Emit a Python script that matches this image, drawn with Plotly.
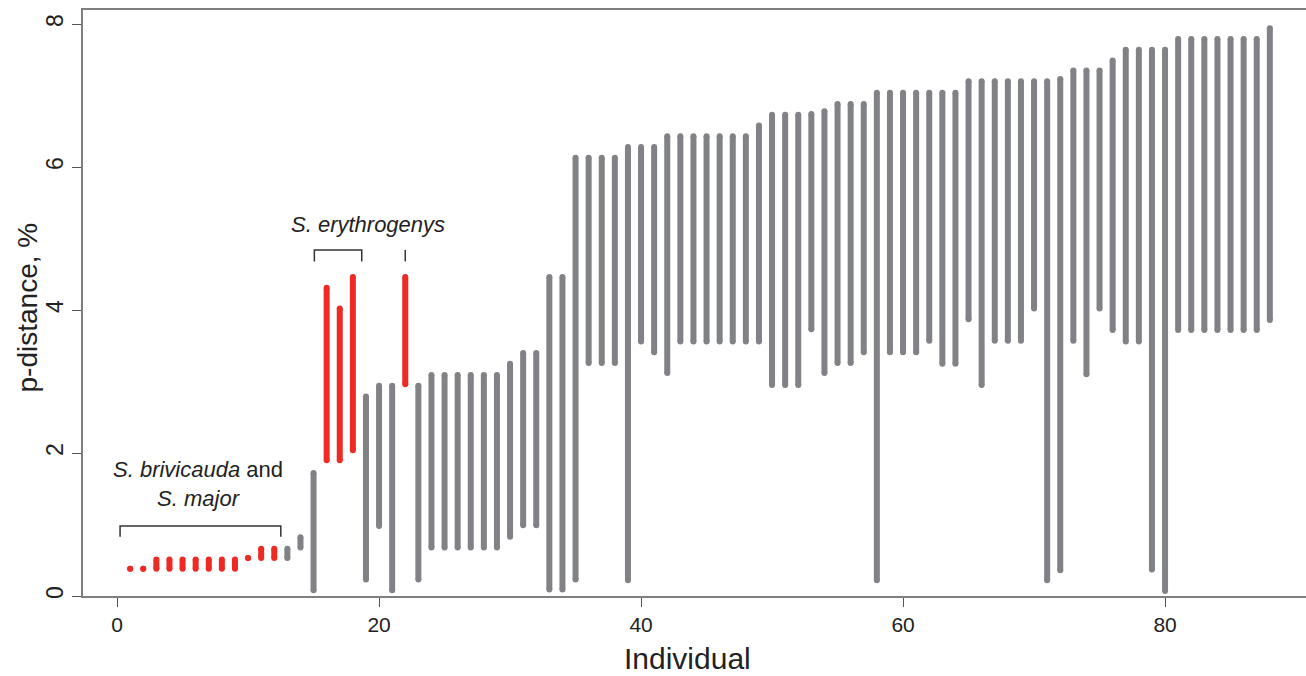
import plotly.graph_objects as go

# ---------------- data ----------------
individual = list(range(1, 89))
p_low = [0.38, 0.38, 0.38, 0.38, 0.38, 0.38, 0.38, 0.38, 0.38, 0.53,
         0.53, 0.53, 0.53, 0.68, 0.08, 1.90, 1.90, 2.04, 0.23, 0.98,
         0.08, 2.96, 0.23, 0.68, 0.68, 0.68, 0.68, 0.68, 0.68, 0.83,
         0.99, 0.99, 0.09, 0.09, 0.23, 3.26, 3.26, 3.26, 0.22, 3.56,
         3.41, 3.12, 3.56, 3.56, 3.56, 3.56, 3.56, 3.56, 3.56, 2.95,
         2.95, 2.95, 3.73, 3.12, 3.26, 3.26, 3.41, 0.22, 3.41, 3.41,
         3.41, 3.57, 3.25, 3.25, 3.87, 2.95, 3.57, 3.57, 3.57, 4.02,
         0.22, 0.36, 3.57, 3.10, 4.02, 3.72, 3.56, 3.56, 0.37, 0.07,
         3.72, 3.72, 3.72, 3.72, 3.72, 3.72, 3.72, 3.86]
p_high = [0.38, 0.38, 0.51, 0.51, 0.51, 0.51, 0.51, 0.51, 0.51, 0.53,
          0.66, 0.66, 0.66, 0.82, 1.72, 4.31, 4.02, 4.46, 2.79, 2.94,
          2.94, 4.46, 2.94, 3.09, 3.09, 3.09, 3.09, 3.09, 3.09, 3.25,
          3.40, 3.40, 4.46, 4.46, 6.13, 6.13, 6.13, 6.13, 6.28, 6.28,
          6.28, 6.43, 6.43, 6.43, 6.43, 6.43, 6.43, 6.43, 6.58, 6.73,
          6.73, 6.73, 6.74, 6.78, 6.88, 6.88, 6.88, 7.04, 7.04, 7.04,
          7.04, 7.04, 7.04, 7.04, 7.20, 7.20, 7.20, 7.20, 7.20, 7.20,
          7.20, 7.23, 7.35, 7.35, 7.35, 7.49, 7.64, 7.64, 7.64, 7.64,
          7.79, 7.79, 7.79, 7.79, 7.79, 7.79, 7.79, 7.94]
highlighted = [1, 2, 3, 4, 5, 6, 7, 8, 9, 10, 11, 12, 16, 17, 18, 22]

x_ticks = [0, 20, 40, 60, 80]
y_ticks = [0, 2, 4, 6, 8]
x_title = "Individual"
y_title = "p-distance, %"

# annotation geometry (data units)
bracket_brivicauda = [0.23, 12.5]
bracket_erythro = [15.06, 18.68]
single_tick_x = 22.0

RED = "#ED2A24"
GRAY = "#818286"
BAR_W = 6

fig = go.Figure()


def add_group(color, members):
    xs, ys = [], []
    for i, lo, hi in zip(individual, p_low, p_high):
        if (i in highlighted) == members:
            xs += [i, i, None]
            ys += [lo, hi, None]
    fig.add_trace(go.Scatter(
        x=xs, y=ys, mode="lines+markers",
        line=dict(color=color, width=BAR_W),
        marker=dict(color=color, size=BAR_W, line=dict(width=0)),
        connectgaps=False, hoverinfo="skip", showlegend=False))


add_group(GRAY, False)
add_group(RED, True)

# brackets
BR = "#333333"
def bracket(x0, x1, ytop, ybot):
    fig.add_trace(go.Scatter(
        x=[x0, x0, x1, x1], y=[ybot, ytop, ytop, ybot], mode="lines",
        line=dict(color=BR, width=1.5), hoverinfo="skip", showlegend=False))

bracket(bracket_brivicauda[0], bracket_brivicauda[1], 0.98, 0.83)
bracket(bracket_erythro[0], bracket_erythro[1], 4.84, 4.68)
fig.add_trace(go.Scatter(x=[single_tick_x, single_tick_x], y=[4.84, 4.68],
                         mode="lines", line=dict(color=BR, width=1.5),
                         hoverinfo="skip", showlegend=False))

FONT = "Liberation Sans, Arial, Helvetica, sans-serif"
TXT = "#222222"
fig.add_annotation(x=6.2, y=1.56, text="<i>S. brivicauda</i> and<br><i>S. major</i>",
                   showarrow=False, font=dict(family=FONT, size=22, color=TXT),
                   xanchor="center", yanchor="middle")
fig.add_annotation(x=19.12, y=5.19, text="<i>S. erythrogenys</i>",
                   showarrow=False, font=dict(family=FONT, size=22, color=TXT),
                   xanchor="center", yanchor="middle")

# axis titles placed as paper annotations
fig.add_annotation(xref="paper", yref="paper", x=0.4939, y=-0.1362,
                   text=x_title, showarrow=False,
                   font=dict(family=FONT, size=30, color=TXT),
                   xanchor="center", yanchor="bottom", borderpad=0)
fig.add_annotation(xref="paper", yref="paper", x=-0.0455, y=0.493,
                   text=y_title, showarrow=False, textangle=-90,
                   font=dict(family=FONT, size=28, color=TXT),
                   xanchor="center", yanchor="middle")

fig.update_layout(
    width=1306, height=676,
    margin=dict(l=83, r=0, t=10, b=80, autoexpand=False),
    paper_bgcolor="white", plot_bgcolor="white",
    font=dict(family=FONT, color=TXT),
    xaxis=dict(range=[-2.6, 90.76], tickvals=x_ticks, showgrid=False, zeroline=False,
               showline=True, linecolor="#7f7f7f", linewidth=1.5, mirror=True,
               ticks="outside", ticklen=9, tickcolor="#555555", tickwidth=1,
               tickfont=dict(size=21, color=TXT), automargin=False),
    yaxis=dict(range=[0, 8.196], tickvals=y_ticks, showgrid=False, zeroline=False,
               showline=True, linecolor="#7f7f7f", linewidth=1.5, mirror=False,
               ticks="outside", ticklen=9, tickcolor="#555555", tickwidth=1,
               tickangle=-90, tickfont=dict(size=23, color=TXT), automargin=False),
)

fig.write_html("out.html", config={"displayModeBar": False},
               post_script="document.body.style.margin='0px';")
